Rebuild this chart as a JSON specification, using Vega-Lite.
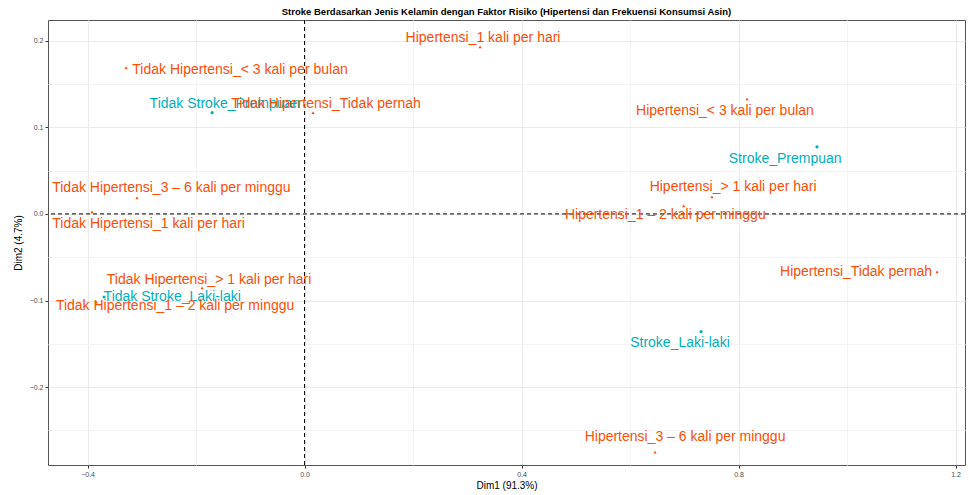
{
  "$schema": "https://vega.github.io/schema/vega-lite/v6.json",
  "width": 917,
  "height": 445,
  "autosize": "none",
  "padding": {"left": 48, "top": 20, "right": 4, "bottom": 30},
  "background": "white",
  "config": {
    "view": {"stroke": "#555555", "strokeWidth": 1},
    "font": "Liberation Sans"
  },
  "title": {
    "text": "Stroke Berdasarkan Jenis Kelamin dengan Faktor Risiko (Hipertensi dan Frekuensi Konsumsi Asin)",
    "fontSize": 9.5,
    "fontWeight": "bold",
    "color": "#000000",
    "anchor": "middle",
    "offset": 3,
    "font": "Liberation Sans"
  },
  "data": {
    "values": [
      {"label": "Stroke_Prempuan", "group": "row", "x": 0.9447, "y": 0.0775, "lx": 0.886, "ly": 0.0636},
      {"label": "Stroke_Laki-laki", "group": "row", "x": 0.731, "y": -0.136, "lx": 0.692, "ly": -0.1491},
      {"label": "Tidak Stroke_Prempuan", "group": "row", "x": -0.1705, "y": 0.117, "lx": -0.147, "ly": 0.1272},
      {"label": "Tidak Stroke_Laki-laki", "group": "row", "x": -0.3696, "y": -0.096, "lx": -0.244, "ly": -0.0965},
      {"label": "Hipertensi_1 kali per hari", "group": "col", "x": 0.3235, "y": 0.193, "lx": 0.329, "ly": 0.2035},
      {"label": "Tidak Hipertensi_< 3 kali per bulan", "group": "col", "x": -0.329, "y": 0.169, "lx": -0.119, "ly": 0.1665},
      {"label": "Tidak Hipertensi_Tidak pernah", "group": "col", "x": 0.0157, "y": 0.117, "lx": 0.0396, "ly": 0.1272},
      {"label": "Hipertensi_< 3 kali per bulan", "group": "col", "x": 0.8157, "y": 0.133, "lx": 0.775, "ly": 0.119},
      {"label": "Hipertensi_> 1 kali per hari", "group": "col", "x": 0.751, "y": 0.0197, "lx": 0.79, "ly": 0.0312},
      {"label": "Hipertensi_1 – 2 kali per minggu", "group": "col", "x": 0.699, "y": 0.0092, "lx": 0.665, "ly": -0.0012},
      {"label": "Hipertensi_Tidak pernah", "group": "col", "x": 1.166, "y": -0.067, "lx": 1.0166, "ly": -0.067},
      {"label": "Hipertensi_3 – 6 kali per minggu", "group": "col", "x": 0.6461, "y": -0.275, "lx": 0.7014, "ly": -0.2578},
      {"label": "Tidak Hipertensi_3 – 6 kali per minggu", "group": "col", "x": -0.309, "y": 0.0185, "lx": -0.2455, "ly": 0.03},
      {"label": "Tidak Hipertensi_1 kali per hari", "group": "col", "x": -0.392, "y": 0.0023, "lx": -0.2876, "ly": -0.0116},
      {"label": "Tidak Hipertensi_> 1 kali per hari", "group": "col", "x": -0.189, "y": -0.0855, "lx": -0.176, "ly": -0.0763},
      {"label": "Tidak Hipertensi_1 – 2 kali per minggu", "group": "col", "x": -0.384, "y": -0.102, "lx": -0.2387, "ly": -0.1064}
    ]
  },
  "layer": [
    {
      "mark": {"type": "rule", "strokeDash": [4, 3], "color": "#000000", "strokeWidth": 1},
      "data": {"values": [{"z": 0}]},
      "encoding": {"x": {"field": "z", "type": "quantitative"}}
    },
    {
      "mark": {"type": "rule", "strokeDash": [4, 3], "color": "#000000", "strokeWidth": 1},
      "data": {"values": [{"z": 0}]},
      "encoding": {"y": {"field": "z", "type": "quantitative"}}
    },
    {
      "mark": {"type": "point", "filled": true, "size": 10, "opacity": 1},
      "encoding": {
        "x": {
          "field": "x", "type": "quantitative",
          "scale": {"domain": [-0.473, 1.2175], "nice": false, "zero": false},
          "axis": {
            "title": "Dim1 (91.3%)",
            "titleFontSize": 10, "titleFontWeight": "normal", "titleColor": "#000000", "titlePadding": 3,
            "values": [-0.4, -0.2, 0, 0.2, 0.4, 0.6, 0.8, 1.0, 1.2],
            "labelExpr": "abs(round(datum.value*10)) % 4 == 0 ? format(datum.value, '.1f') : ''",
            "labelFontSize": 7, "labelColor": "#4d4d4d", "labelPadding": 2,
            "domain": false,
            "tickSize": 3,
            "tickColor": {"condition": {"test": "abs(round(datum.value*10)) % 4 == 0", "value": "#333333"}, "value": "transparent"},
            "gridColor": {"condition": {"test": "abs(round(datum.value*10)) % 4 == 0", "value": "#ebebeb"}, "value": "#f4f4f4"},
            "gridWidth": 1
          }
        },
        "y": {
          "field": "y", "type": "quantitative",
          "scale": {"domain": [-0.29, 0.224], "nice": false, "zero": false},
          "axis": {
            "title": "Dim2 (4.7%)",
            "titleFontSize": 10, "titleFontWeight": "normal", "titleColor": "#000000", "titlePadding": 6,
            "values": [-0.25, -0.2, -0.15, -0.1, -0.05, 0, 0.05, 0.1, 0.15, 0.2],
            "labelExpr": "abs(round(datum.value*100)) % 10 == 0 ? format(datum.value, '.1f') : ''",
            "labelFontSize": 7, "labelColor": "#4d4d4d", "labelPadding": 2,
            "domain": false,
            "tickSize": 3,
            "tickColor": {"condition": {"test": "abs(round(datum.value*100)) % 10 == 0", "value": "#333333"}, "value": "transparent"},
            "gridColor": {"condition": {"test": "abs(round(datum.value*100)) % 10 == 0", "value": "#ebebeb"}, "value": "#f4f4f4"},
            "gridWidth": 1
          }
        },
        "shape": {"field": "group", "type": "nominal", "scale": {"domain": ["row", "col"], "range": ["circle", "triangle-up"]}, "legend": null},
        "color": {"field": "group", "type": "nominal", "scale": {"domain": ["row", "col"], "range": ["#00AFBB", "#FC4E07"]}, "legend": null}
      }
    },
    {
      "mark": {"type": "text", "fontSize": 14, "align": "center", "baseline": "middle", "font": "Liberation Sans"},
      "encoding": {
        "x": {"field": "lx", "type": "quantitative"},
        "y": {"field": "ly", "type": "quantitative"},
        "text": {"field": "label", "type": "nominal"},
        "color": {"field": "group", "type": "nominal", "scale": {"domain": ["row", "col"], "range": ["#00AFBB", "#FC4E07"]}, "legend": null}
      }
    }
  ]
}
